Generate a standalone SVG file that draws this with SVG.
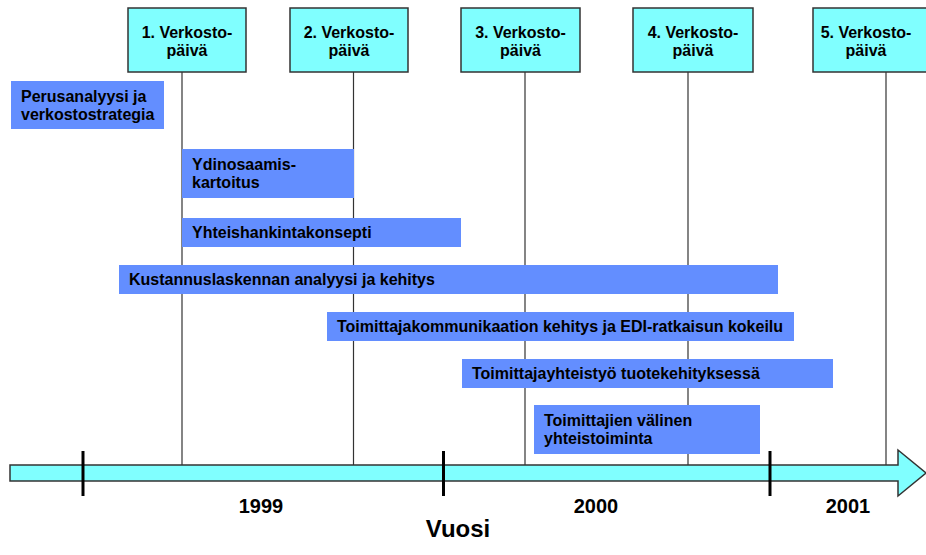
<svg xmlns="http://www.w3.org/2000/svg" width="926" height="555" viewBox="0 0 926 555">
  <style>
    .day { fill: #80FFFF; stroke: #333333; stroke-width: 1.5; }
    .task { fill: #638EFF; }
    .guide { stroke: #333333; stroke-width: 1.2; fill: none; }
    .tick { stroke: #000000; stroke-width: 3; }
    text { font-family: "Liberation Sans", Arial, sans-serif; font-weight: bold; fill: #000000; }
    .lbl { font-size: 16px; }
    .ctr { text-anchor: middle; }
    .year { font-size: 20px; text-anchor: middle; }
    .axis { font-size: 24px; text-anchor: middle; }
  </style>

  <rect width="926" height="555" fill="#ffffff"/>

  <!-- guide lines from each network day down to the time axis -->
  <g id="connectors">
    <line class="guide" x1="182" y1="72" x2="182" y2="465"/>
    <line class="guide" x1="353.5" y1="72" x2="353.5" y2="465"/>
    <line class="guide" x1="525" y1="72" x2="525" y2="465"/>
    <line class="guide" x1="688" y1="72" x2="688" y2="465"/>
    <line class="guide" x1="886" y1="72" x2="886" y2="465"/>
  </g>

  <!-- network days -->
  <g id="day1">
    <rect class="day" x="128" y="8" width="118" height="64"/>
    <text class="lbl ctr" x="187" y="38">1. Verkosto-</text>
    <text class="lbl ctr" x="187" y="56">päivä</text>
  </g>
  <g id="day2">
    <rect class="day" x="290" y="8" width="118" height="64"/>
    <text class="lbl ctr" x="349" y="38">2. Verkosto-</text>
    <text class="lbl ctr" x="349" y="56">päivä</text>
  </g>
  <g id="day3">
    <rect class="day" x="461" y="8" width="119" height="64"/>
    <text class="lbl ctr" x="520.5" y="38">3. Verkosto-</text>
    <text class="lbl ctr" x="520.5" y="56">päivä</text>
  </g>
  <g id="day4">
    <rect class="day" x="633" y="8" width="120" height="64"/>
    <text class="lbl ctr" x="693" y="38">4. Verkosto-</text>
    <text class="lbl ctr" x="693" y="56">päivä</text>
  </g>
  <g id="day5">
    <rect class="day" x="813" y="8" width="119" height="64"/>
    <text class="lbl ctr" x="866" y="38">5. Verkosto-</text>
    <text class="lbl ctr" x="866" y="56">päivä</text>
  </g>

  <!-- work packages -->
  <g id="task-perusanalyysi">
    <rect class="task" x="11" y="81" width="153" height="48"/>
    <text class="lbl" x="21" y="102">Perusanalyysi ja</text>
    <text class="lbl" x="21" y="120">verkostostrategia</text>
  </g>
  <g id="task-ydinosaamis">
    <rect class="task" x="182" y="149" width="172" height="49"/>
    <text class="lbl" x="192" y="170">Ydinosaamis-</text>
    <text class="lbl" x="192" y="188">kartoitus</text>
  </g>
  <g id="task-yhteishankinta">
    <rect class="task" x="182" y="218" width="279" height="29"/>
    <text class="lbl" x="192" y="238">Yhteishankintakonsepti</text>
  </g>
  <g id="task-kustannus">
    <rect class="task" x="119" y="265" width="659" height="29"/>
    <text class="lbl" x="129" y="285">Kustannuslaskennan analyysi ja kehitys</text>
  </g>
  <g id="task-kommunikaatio">
    <rect class="task" x="327" y="312" width="467" height="29"/>
    <text class="lbl" x="337" y="332">Toimittajakommunikaation kehitys ja EDI-ratkaisun kokeilu</text>
  </g>
  <g id="task-tuotekehitys">
    <rect class="task" x="462" y="359" width="371" height="29"/>
    <text class="lbl" x="472" y="379">Toimittajayhteistyö tuotekehityksessä</text>
  </g>
  <g id="task-yhteistoiminta">
    <rect class="task" x="534" y="405" width="226" height="49"/>
    <text class="lbl" x="544" y="426">Toimittajien välinen</text>
    <text class="lbl" x="544" y="444">yhteistoiminta</text>
  </g>

  <!-- time axis -->
  <g id="axis">
    <polygon points="10,465 898,465 898,450 926,473 898,496 898,481 10,481" fill="#80FFFF" stroke="#333333" stroke-width="1.5"/>
    <line class="tick" x1="83" y1="451" x2="83" y2="496"/>
    <line class="tick" x1="443.5" y1="451" x2="443.5" y2="496"/>
    <line class="tick" x1="770" y1="451" x2="770" y2="496"/>
    <text class="year" x="261" y="513">1999</text>
    <text class="year" x="596" y="513">2000</text>
    <text class="year" x="848" y="513">2001</text>
    <text class="axis" x="458" y="537">Vuosi</text>
  </g>
</svg>
